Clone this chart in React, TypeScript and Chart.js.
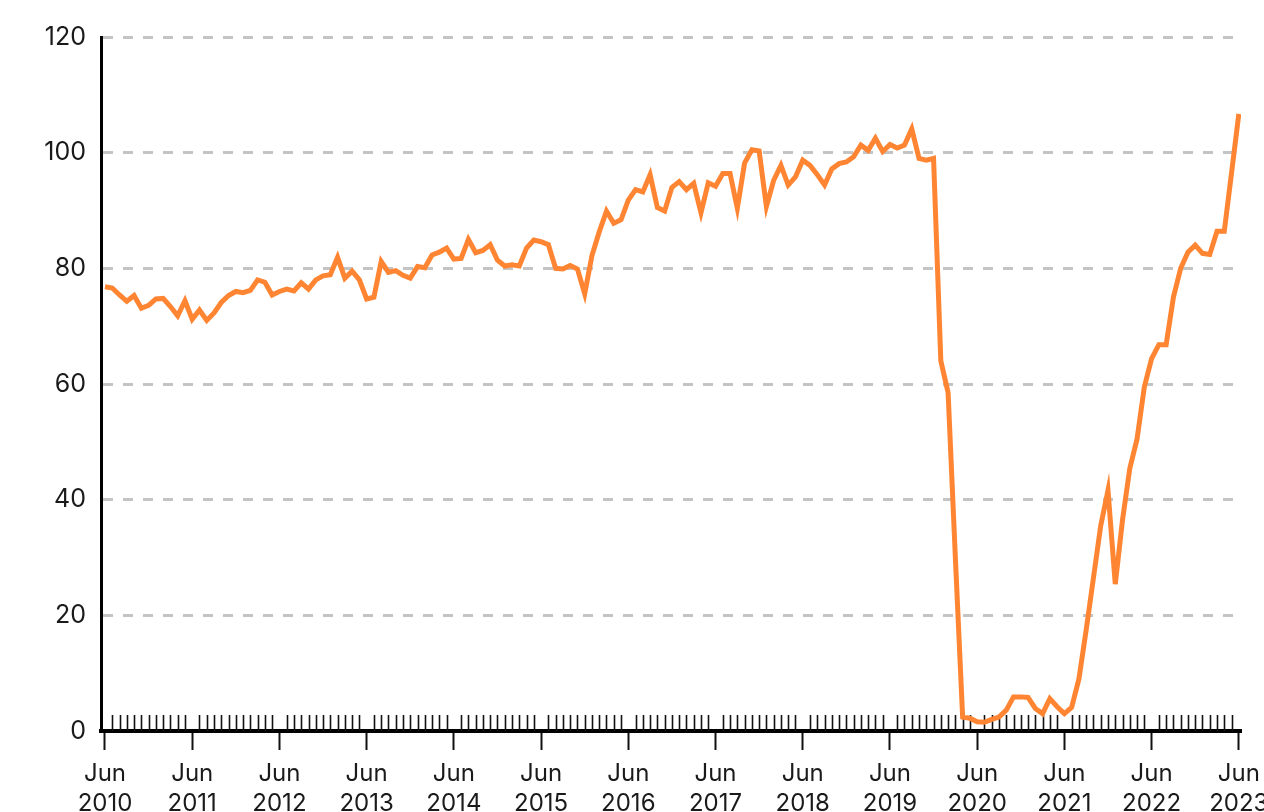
import React, { useEffect, useRef } from 'react';
import { Chart, registerables } from 'chart.js';

Chart.register(...registerables);

const tickMonth = 'Jun';
const tickYears = ['2010', '2011', '2012', '2013', '2014', '2015', '2016', '2017', '2018', '2019', '2020', '2021', '2022', '2023'];

// Monthly values, Jun 2010 .. Jun 2023
const values = [
  76.8, 76.6, 75.4, 74.3, 75.3, 73.1, 73.6, 74.7, 74.8, 73.4, 71.8, 74.4,
  71.2, 72.8, 71.0, 72.3, 74.1, 75.3, 76.0, 75.8, 76.2, 78.0, 77.6, 75.4,
  76.0, 76.4, 76.1, 77.5, 76.4, 78.0, 78.7, 78.9, 81.9, 78.3, 79.5, 78.0,
  74.7, 75.0, 81.2, 79.3, 79.6, 78.8, 78.3, 80.3, 80.1, 82.3, 82.8, 83.5,
  81.6, 81.7, 85.0, 82.7, 83.1, 84.1, 81.4, 80.4, 80.6, 80.4, 83.5, 84.9,
  84.6, 84.1, 80.0, 79.9, 80.5, 79.9, 75.6, 82.2, 86.3, 89.9, 87.8, 88.4,
  91.8, 93.6, 93.2, 96.2, 90.5, 89.9, 94.0, 95.0, 93.6, 94.7, 89.6, 94.8,
  94.2, 96.4, 96.4, 90.4, 98.2, 100.5, 100.3, 90.7, 95.2, 97.8, 94.4, 95.8,
  98.7, 97.8, 96.2, 94.4, 97.2, 98.1, 98.4, 99.3, 101.3, 100.4, 102.5, 100.2,
  101.4, 100.8, 101.3, 104.1, 99.0, 98.7, 99.0, 64.0, 58.5, 30.0, 2.4, 2.2,
  1.6, 1.5, 2.0, 2.4, 3.6, 5.9, 5.9, 5.8, 3.9, 3.0, 5.6, 4.2,
  3.0, 4.1, 9.0, 17.5, 26.5, 35.5, 41.6, 25.4, 36.5, 45.4, 50.5, 59.5,
  64.4, 66.8, 66.8, 75.0, 80.0, 82.8, 84.0, 82.6, 82.4, 86.4, 86.4, 96.5,
  106.7,
];

const yTicks = [0, 20, 40, 60, 80, 100, 120];

const minorTicksPlugin = {
  id: 'minorTicks',
  beforeDatasetsDraw(chart: any) {
    const xs = chart.scales.x;
    const { ctx, chartArea } = chart;
    ctx.save();
    ctx.strokeStyle = '#111';
    ctx.lineWidth = 1.6;
    ctx.beginPath();
    values.forEach((_, i) => {
      if (i % 12 === 0) return;
      const x = Math.round(xs.getPixelForValue(i)) + 0.5;
      ctx.moveTo(x, chartArea.bottom);
      ctx.lineTo(x, chartArea.bottom - 16);
    });
    ctx.stroke();
    ctx.restore();
  },
};

export default function App() {
  const canvasRef = useRef<HTMLCanvasElement | null>(null);

  useEffect(() => {
    if (!canvasRef.current) return;
    const chart = new Chart(canvasRef.current, {
      type: 'line',
      data: {
        datasets: [
          {
            data: values.map((v, i) => ({ x: i, y: v })),
            borderColor: '#ff8533',
            borderWidth: 5,
            pointRadius: 0,
            tension: 0,
            fill: false,
          },
        ],
      },
      options: {
        animation: false,
        responsive: true,
        maintainAspectRatio: false,
        layout: { padding: { top: 37, right: 23, left: 0, bottom: 0 } },
        plugins: { legend: { display: false }, tooltip: { enabled: false } },
        scales: {
          x: {
            type: 'linear',
            min: -0.55,
            max: 156.3,
            afterBuildTicks: (s: any) => {
              s.ticks = tickYears.map((_, k) => ({ value: k * 12 }));
            },
            afterFit: (s: any) => {
              s.height = 81;
              s.paddingLeft = 0;
              s.paddingRight = 0;
            },
            grid: {
              drawOnChartArea: false,
              drawTicks: true,
              tickLength: 19,
              tickWidth: 2,
              tickColor: '#111',
            },
            border: { display: true, color: '#000', width: 4 },
            ticks: {
              autoSkip: false,
              maxRotation: 0,
              padding: 9,
              color: '#1a1a1a',
              font: { family: 'Inter', size: 24, lineHeight: 1.25 },
              callback: (v: any) => {
                const k = Math.round(Number(v) / 12);
                return [tickMonth, tickYears[k]];
              },
            },
          },
          y: {
            min: 0,
            max: 120,
            afterBuildTicks: (s: any) => {
              s.ticks = yTicks.map((v) => ({ value: v }));
            },
            afterFit: (s: any) => {
              s.width = 101;
            },
            ticks: {
              padding: 15,
              color: '#1a1a1a',
              font: { family: 'Inter', size: 25 },
            },
            grid: {
              drawTicks: false,
              color: (ctx: any) => (ctx.tick && ctx.tick.value === 0 ? 'rgba(0,0,0,0)' : '#c4c4c4'),
              lineWidth: 3,
            },
            border: { display: true, color: '#000', width: 3, dash: [10, 10] },
          },
        },
      },
      plugins: [minorTicksPlugin],
    } as any);
    return () => chart.destroy();
  }, []);

  return (
    <div style={{ position: 'absolute', left: 0, top: 0, width: 1264, height: 812, background: '#fff' }}>
      <canvas ref={canvasRef} style={{ display: 'block' }} />
    </div>
  );
}
